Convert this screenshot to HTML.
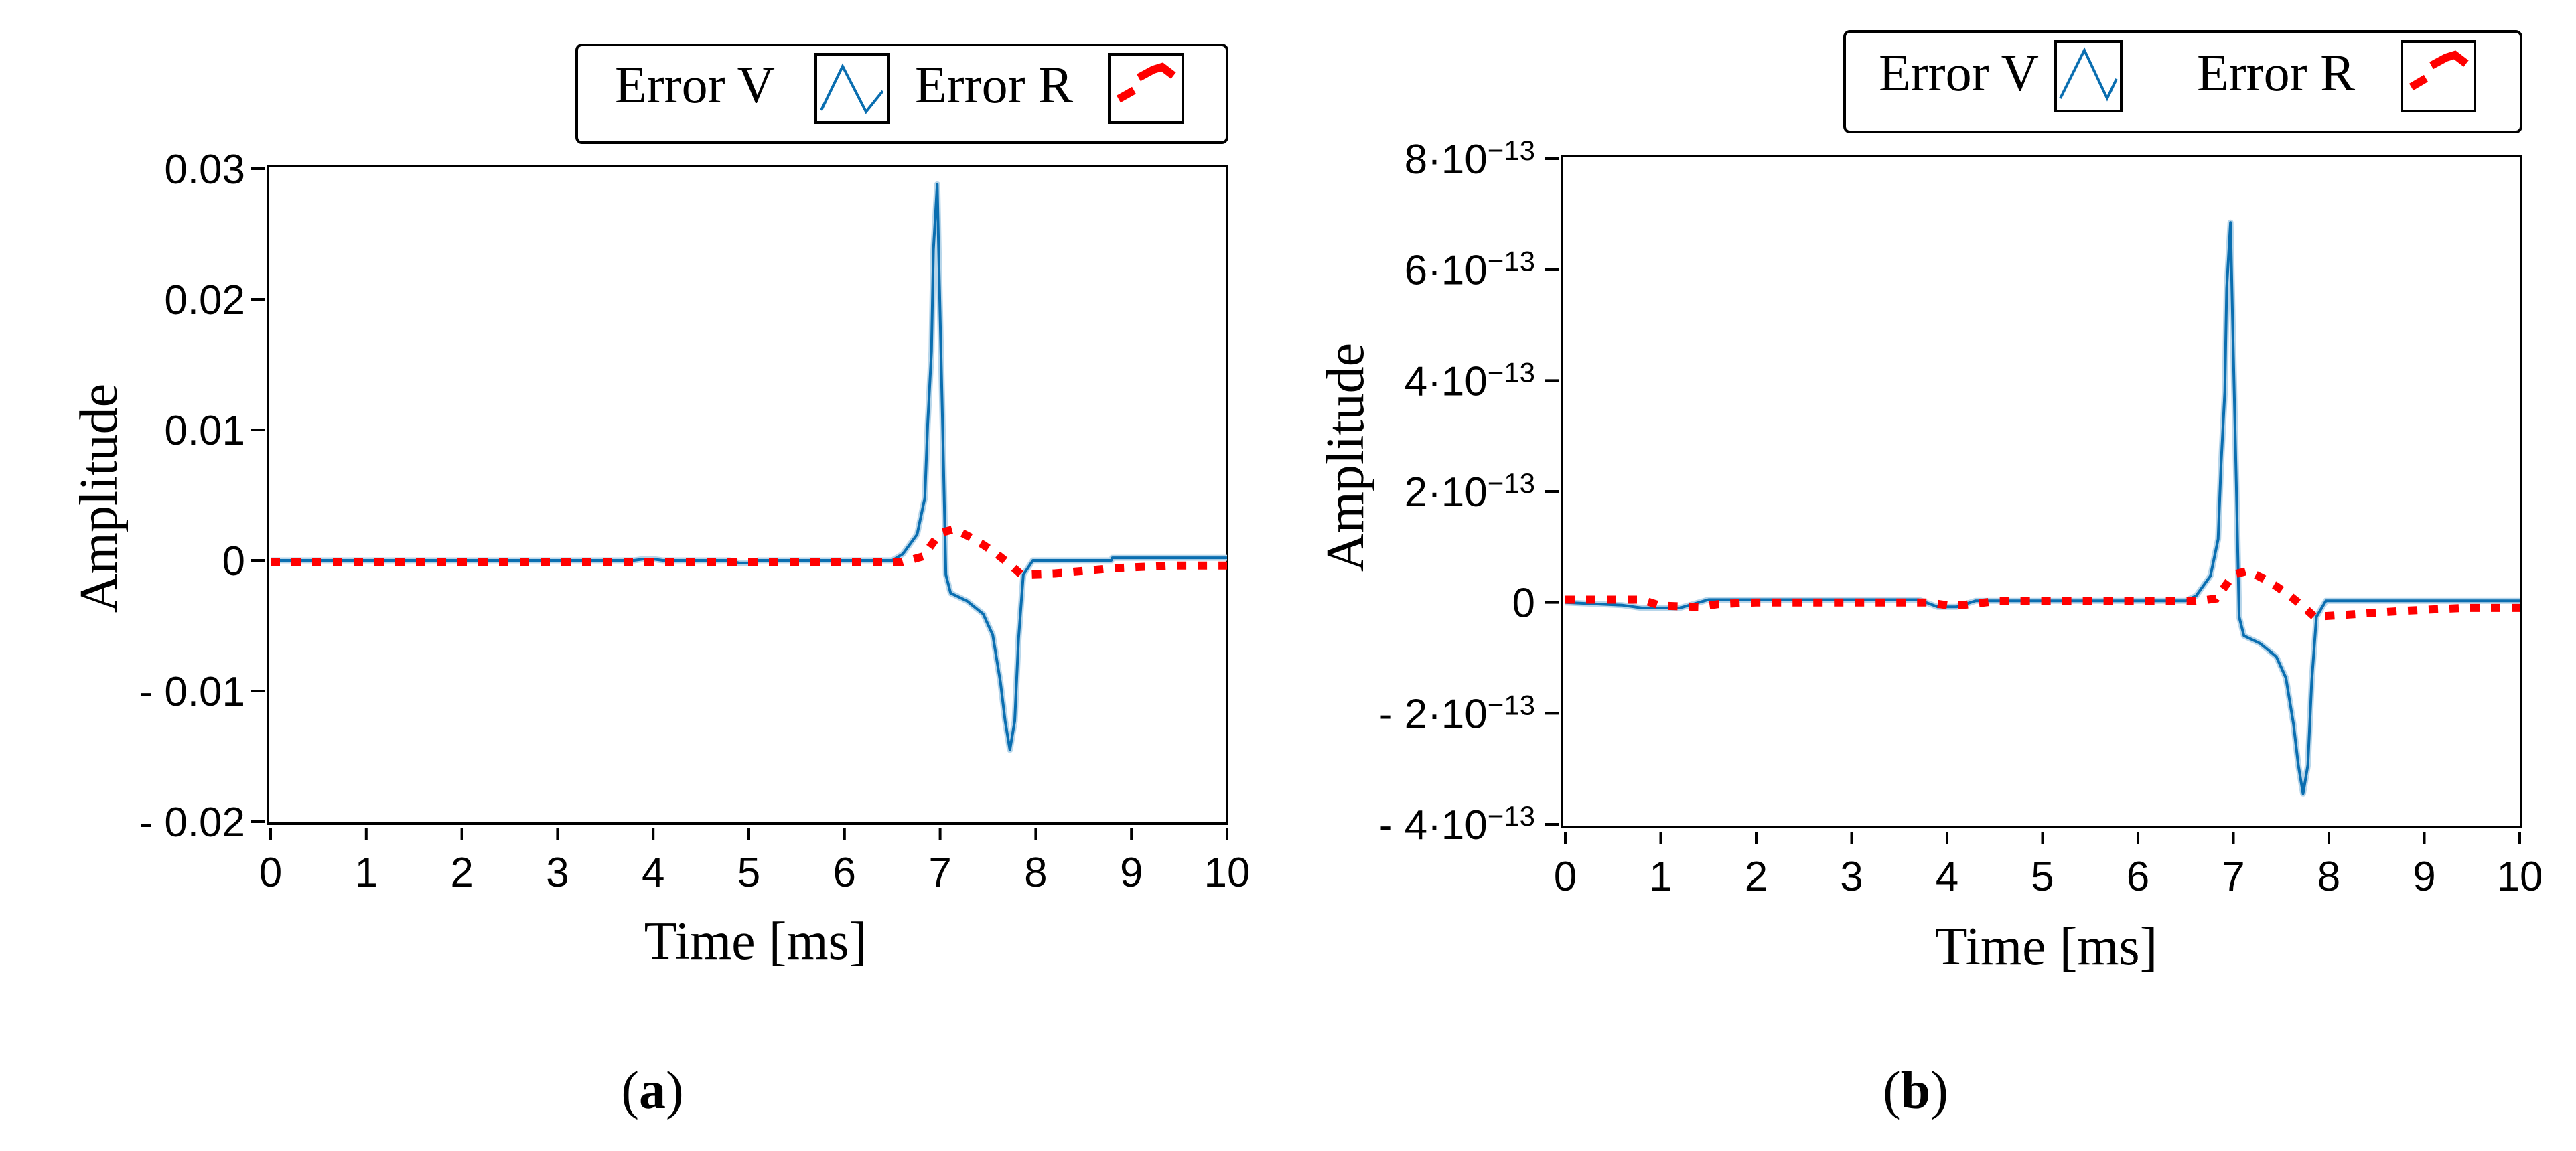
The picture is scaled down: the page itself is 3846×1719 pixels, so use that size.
<!DOCTYPE html>
<html><head><meta charset="utf-8"><style>
html,body{margin:0;padding:0;background:#fff;}
svg{display:block;}
.serif{font-family:"Liberation Serif",serif;}
.sans{font-family:"Liberation Sans",sans-serif;}
</style></head><body>
<svg id="fig" width="3846" height="1719" viewBox="0 0 3846 1719" xmlns="http://www.w3.org/2000/svg">
<rect width="3846" height="1719" fill="#fff"/>
<!-- Legend A -->
<g>
<rect x="861" y="67" width="971" height="146" rx="8" fill="#fff" stroke="#000" stroke-width="4"/>
<text class="serif" x="918" y="153" font-size="78">Error V</text>
<rect x="1218" y="81" width="109" height="102" fill="#fff" stroke="#000" stroke-width="4"/>
<polyline points="1226,165 1258,99 1293,167 1318,136" fill="none" stroke="#0a6eb0" stroke-width="4"/>
<text class="serif" x="1366" y="153" font-size="78">Error R</text>
<rect x="1657" y="81" width="109" height="102" fill="#fff" stroke="#000" stroke-width="4"/>
<path d="M1670,148 L1693,135 M1700,116 L1722,104 L1735,100 L1752,113" fill="none" stroke="#f00" stroke-width="12"/>
</g>
<!-- Legend B -->
<g>
<rect x="2754" y="47" width="1010" height="150" rx="8" fill="#fff" stroke="#000" stroke-width="4"/>
<text class="serif" x="2805" y="135" font-size="78">Error V</text>
<rect x="3069" y="62" width="98" height="104" fill="#fff" stroke="#000" stroke-width="4"/>
<polyline points="3076,147 3112,75 3146,147 3160,118" fill="none" stroke="#0a6eb0" stroke-width="4"/>
<text class="serif" x="3280" y="135" font-size="78">Error R</text>
<rect x="3586" y="62" width="109" height="104" fill="#fff" stroke="#000" stroke-width="4"/>
<path d="M3600,130 L3622,117 M3630,98 L3652,86 L3665,82 L3682,95" fill="none" stroke="#f00" stroke-width="12"/>
</g>
<g id="chartA"></g>
<g id="chartB"></g>
<text class="serif" x="974" y="1655" font-size="80" text-anchor="middle">(<tspan font-weight="bold">a</tspan>)</text>
<text class="serif" x="2860" y="1655" font-size="80" text-anchor="middle">(<tspan font-weight="bold">b</tspan>)</text>
</svg>
<script>
// ---- Chart A data ----
const xTicks = [0,1,2,3,4,5,6,7,8,9,10];
const yTicksA = [0.03,0.02,0.01,0,-0.01,-0.02];
const yTickLabelsA = ["0.03","0.02","0.01","0","- 0.01","- 0.02"];
const vTimeA = [0,3.8,3.9,4.0,4.1,4.8,4.9,5.0,5.1,6.5,6.61,6.76,6.84,6.87,6.91,6.93,6.97,6.99,7.03,7.06,7.11,7.28,7.45,7.55,7.63,7.68,7.73,7.78,7.82,7.87,7.97,8.79,8.8,10];
const vErrA = [0,0,0.0001,0.0001,0,0,-0.0002,-0.0002,0,0,0.0005,0.002,0.0048,0.0104,0.016,0.0238,0.0288,0.0219,0.0091,-0.0011,-0.0025,-0.0031,-0.0041,-0.0057,-0.0093,-0.0123,-0.0145,-0.0123,-0.006,-0.0011,0,0,0.0002,0.0002];
const rTimeA = [0,6.6,6.82,7.0,7.15,7.31,7.45,7.59,7.73,7.85,8.2,8.8,9.41,10];
const rErrA = [-0.00015,-0.00015,0.0003,0.0021,0.0024,0.0018,0.0012,0.0005,-0.0003,-0.0011,-0.001,-0.0006,-0.0004,-0.0004];
// ---- Chart B data (units of 1e-13) ----
const yTicksB = [8,6,4,2,0,-2,-4];
const yTickMainB = ["8·10","6·10","4·10","2·10","0","- 2·10","- 4·10"];
const vTimeB = [0,0.6,0.8,1.2,1.5,3.7,3.9,4.1,4.3,6.5,6.61,6.76,6.84,6.87,6.91,6.93,6.97,6.99,7.03,7.06,7.11,7.28,7.45,7.55,7.63,7.68,7.73,7.78,7.82,7.87,7.97,10];
const vErrB = [0,-0.05,-0.1,-0.1,0.05,0.05,-0.08,-0.08,0.03,0.03,0.12,0.48,1.14,2.47,3.8,5.66,6.85,5.2,2.17,-0.26,-0.6,-0.74,-0.98,-1.36,-2.2,-2.93,-3.45,-2.93,-1.43,-0.26,0.03,0.03];
const rTimeB = [0,0.8,1.0,1.4,1.6,2.0,3.8,4.0,4.2,4.5,6.6,6.82,7.0,7.15,7.31,7.45,7.59,7.73,7.85,8.2,8.8,9.41,10];
const rErrB = [0.05,0.05,-0.06,-0.08,-0.03,0,0,-0.05,-0.04,0.02,0.02,0.07,0.5,0.57,0.43,0.29,0.12,-0.07,-0.26,-0.22,-0.15,-0.1,-0.1];

const NS = "http://www.w3.org/2000/svg";
function mk(tag, attrs, parent){
  const e = document.createElementNS(NS, tag);
  for (const k in attrs) e.setAttribute(k, attrs[k]);
  parent.appendChild(e); return e;
}
function drawChart(g, cfg){
  const xs = t => cfg.x0 + (t - 0) / 10 * (cfg.x1 - cfg.x0);
  const ys = v => cfg.yTop + (cfg.yMax - v) / (cfg.yMax - cfg.yMin) * (cfg.yBot - cfg.yTop);
  const frame = mk('rect', {x:cfg.L, y:cfg.T, width:cfg.R-cfg.L, height:cfg.B-cfg.T, fill:'none', stroke:'#000', 'stroke-width':4}, g);
  
  
  xTicks.forEach(t => {
    const tk = mk('line', {x1:xs(t), x2:xs(t), y1:cfg.B+7, y2:cfg.B+25, stroke:'#000', 'stroke-width':4}, g);
    
    
    const tl = mk('text', {x:xs(t), y:cfg.xLabY, 'font-size':62, 'text-anchor':'middle', class:'sans'}, g);
    tl.textContent = String(t);
    
    
  });
  cfg.yTicks.forEach((v, i) => {
    const tk = mk('line', {x1:cfg.L-25, x2:cfg.L-5, y1:ys(v), y2:ys(v), stroke:'#000', 'stroke-width':4}, g);
    
    
    const tl = mk('text', {x:cfg.yLabX, y:ys(v)+22, 'font-size':62, 'text-anchor':'end', class:'sans'}, g);
    
    
    if (cfg.sup && v !== 0) {
      const a = document.createElementNS(NS, 'tspan'); a.textContent = cfg.yLabels[i]; tl.appendChild(a);
      const b = document.createElementNS(NS, 'tspan'); b.textContent = '\u221213';
      b.setAttribute('font-size', '42'); b.setAttribute('dy', '-20'); tl.appendChild(b);
    } else tl.textContent = cfg.yLabels[i];
  });
  const rp = cfg.rT.map((t,i) => xs(t).toFixed(1)+','+ys(cfg.rV[i]).toFixed(1)).join(' ');
  const vp = cfg.vT.map((t,i) => xs(t).toFixed(1)+','+ys(cfg.vV[i]).toFixed(1)).join(' ');
  const halo = mk('polyline', {points:vp, fill:'none', stroke:'#b8d6ea', 'stroke-width':9, 'stroke-linejoin':'round'}, g);
  
  
  const vl = mk('polyline', {points:vp, fill:'none', stroke:'#0a6eb0', 'stroke-width':4, 'stroke-linejoin':'round'}, g);
  
  
  const rl = mk('polyline', {points:rp, fill:'none', stroke:'#f00', 'stroke-width':12, 'stroke-dasharray':'14 17'}, g);
  
  
  const xt = mk('text', {x:cfg.xTitleX, y:cfg.xTitleY, 'font-size':80, 'text-anchor':'middle', class:'serif'}, g);
  xt.textContent = 'Time [ms]';
  
  
  const yt = mk('text', {x:0, y:0, 'font-size':80, 'text-anchor':'middle', class:'serif', transform:'translate('+cfg.yTitleX+','+cfg.yTitleY+') rotate(-90)'}, g);
  yt.textContent = 'Amplitude';
  
  
}
drawChart(document.getElementById('chartA'), {
  L:400, R:1832, T:248, B:1230, x0:404, x1:1832, yTop:252, yBot:1227, yMax:0.03, yMin:-0.02,
  yTicks:yTicksA, yLabels:yTickLabelsA, sup:false, yLabX:366, xLabY:1324,
  vT:vTimeA, vV:vErrA, rT:rTimeA, rV:rErrA,
  xTitleX:1128, xTitleY:1432, yTitleX:174, yTitleY:744
});
drawChart(document.getElementById('chartB'), {
  L:2332, R:3764, T:233, B:1235, x0:2337, x1:3762, yTop:237, yBot:1231, yMax:8, yMin:-4,
  yTicks:yTicksB, yLabels:yTickMainB, sup:true, yLabX:2292, xLabY:1330,
  vT:vTimeB, vV:vErrB, rT:rTimeB, rV:rErrB,
  xTitleX:3055, xTitleY:1440, yTitleX:2035, yTitleY:683
});
</script>
</body></html>
